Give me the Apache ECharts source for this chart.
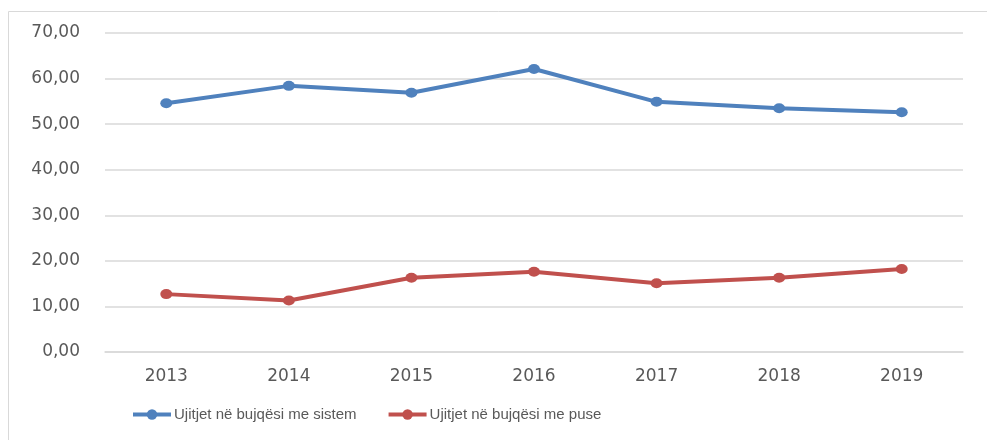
<!DOCTYPE html>
<html>
<head>
<meta charset="utf-8">
<script src="https://cdn.jsdelivr.net/npm/echarts@6/dist/echarts.min.js"></script>
<style>
  html, body { margin: 0; padding: 0; background: #fff; }
  #chart { width: 987px; height: 440px; }
</style>
</head>
<body>
<div id="chart"></div>
<script>
const years = ['2013', '2014', '2015', '2016', '2017', '2018', '2019'];
const sistemValues = [54.6, 58.4, 56.9, 62.1, 54.9, 53.5, 52.6];
const puseValues = [12.7, 11.3, 16.3, 17.6, 15.1, 16.3, 18.2];
const seriesNames = ['Ujitjet në bujqësi me sistem', 'Ujitjet në bujqësi me puse'];

const chart = echarts.init(document.getElementById('chart'));

const lineSeries = (name, data, color) => ({
  name,
  type: 'line',
  data,
  symbol: 'circle',
  symbolSize: [12, 10],
  itemStyle: { color },
  lineStyle: { color, width: 4 },
  emphasis: { disabled: true },
});

const opts = {
  animation: false,
  graphic: [
    {
      type: 'rect',
      shape: { x: 8.5, y: 11.5, width: 1000, height: 500 },
      style: { fill: 'none', stroke: '#d9d9d9', lineWidth: 1 },
      silent: true,
    },
  ],
  grid: { left: 105, right: 24, top: 33, bottom: 88 },
  legend: {
    left: 131,
    top: 407,
    padding: 0,
    itemWidth: 38,
    itemHeight: 13,
    itemGap: 30,
    lineStyle: { width: 4 },
    textStyle: { fontFamily: 'Liberation Sans', fontSize: 15, color: '#595959', padding: [0, 0, 0, -2] },
    data: seriesNames,
  },
  xAxis: {
    type: 'category',
    data: years,
    boundaryGap: true,
    axisLine: { lineStyle: { color: '#d9d9d9', width: 1.5 } },
    axisTick: { show: false },
    axisLabel: { fontFamily: 'DejaVu Sans', fontSize: 17, color: '#595959', margin: 16 },
  },
  yAxis: {
    type: 'value',
    min: 0,
    max: 70,
    interval: 10,
    axisLine: { show: false },
    axisTick: { show: false },
    splitLine: { lineStyle: { color: '#d9d9d9', width: 1.5 } },
    axisLabel: {
      fontFamily: 'DejaVu Sans',
      fontSize: 17,
      color: '#595959',
      margin: 25,
      formatter: (v) => v.toFixed(2).replace('.', ','),
    },
  },
  series: [
    lineSeries(seriesNames[0], sistemValues, '#4f81bd'),
    lineSeries(seriesNames[1], puseValues, '#c0504d'),
  ],
};

chart.setOption(opts);
</script>
</body>
</html>
